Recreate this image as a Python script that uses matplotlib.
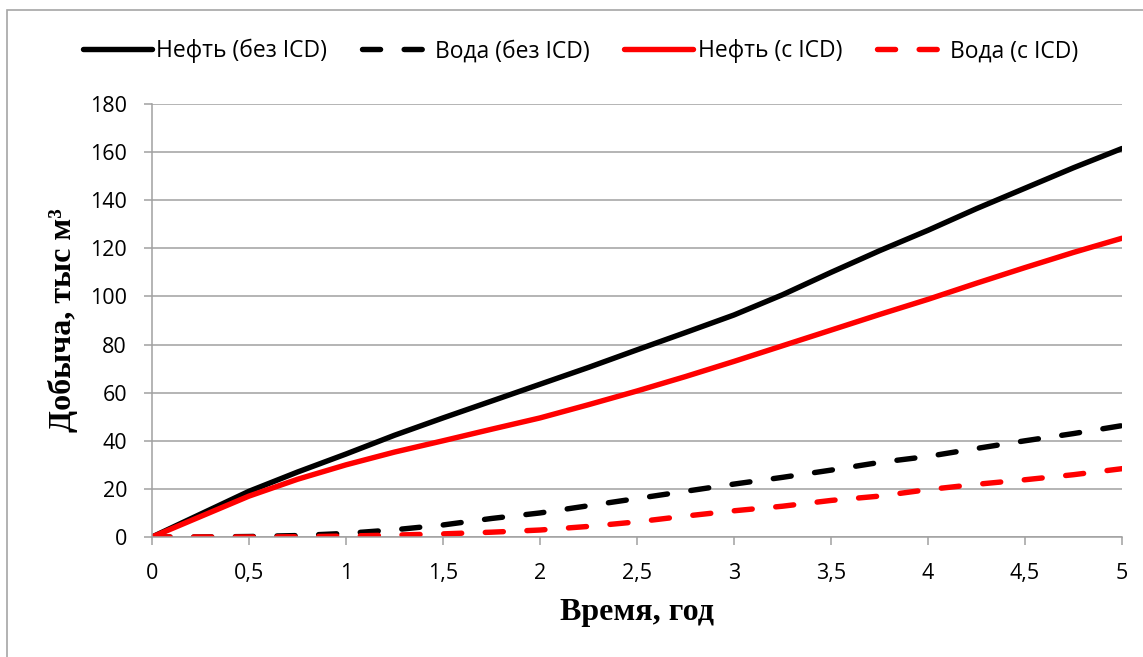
import matplotlib
matplotlib.use("Agg")
import matplotlib.pyplot as plt
from matplotlib.patches import Rectangle
from matplotlib.ticker import FixedLocator, FixedFormatter

# Time axis, years
years = [0, 0.25, 0.5, 0.75, 1, 1.25, 1.5, 1.75, 2, 2.25, 2.5,
         2.75, 3, 3.25, 3.5, 3.75, 4, 4.25, 4.5, 4.75, 5]

# Cumulative production, thousand m3
oil_no_icd = [0, 9.5, 19, 27, 34.5, 42.3, 49.5, 56.5, 63.5, 70.5, 77.8,
              85, 92.3, 100.7, 110, 119, 127.5, 136.5, 145, 153.5, 161.5]
water_no_icd = [0, 0, 0.2, 0.6, 1.5, 3, 5, 7.7, 10, 13, 16,
                19, 22, 24.8, 27.8, 31, 33.5, 36.8, 40, 43, 46.3]
oil_icd = [0, 8.5, 17, 24, 30, 35.3, 40, 44.8, 49.5, 55, 60.7,
           66.7, 73, 79.5, 86, 92.5, 98.8, 105.5, 112, 118.3, 124.2]
water_icd = [0, 0, 0, 0.1, 0.4, 0.8, 1.3, 2, 2.9, 4.4, 6.3,
             8.7, 10.9, 12.8, 15.2, 17, 19.7, 21.9, 23.8, 25.9, 28.4]

series_labels = ["Нефть (без ICD)", "Вода (без ICD)", "Нефть (с ICD)", "Вода (с ICD)"]

x_ticks = [0, 0.5, 1, 1.5, 2, 2.5, 3, 3.5, 4, 4.5, 5]
x_tick_labels = ["0", "0,5", "1", "1,5", "2", "2,5", "3", "3,5", "4", "4,5", "5"]
y_ticks = [0, 20, 40, 60, 80, 100, 120, 140, 160, 180]
y_tick_labels = [str(v) for v in y_ticks]

plt.rcParams["lines.scale_dashes"] = False
plt.rcParams["font.family"] = ["Open Sans", "DejaVu Sans"]

W, H = 1143, 657
fig = plt.figure(figsize=(W / 100, H / 100), dpi=100)
fig.patch.set_facecolor("white")

# Outer chart frame
fig.add_artist(Rectangle((7 / W, -0.05), 1.2, 1 - 10 / H + 0.05,
                         transform=fig.transFigure, fill=False,
                         edgecolor="#a6a6a6", linewidth=1.2))

ax = fig.add_axes([152 / W, 1 - 537 / H, (1122 - 152) / W, (537 - 104) / H])

grid_c = "#a0a0a0"
lw = 3.9
dash = (13, 17)
common = dict(lw=lw, solid_capstyle="round", solid_joinstyle="round",
              dash_capstyle="round", dash_joinstyle="round")

ax.plot(years, oil_no_icd, color="black", label=series_labels[0], **common)
ax.plot(years, water_no_icd, color="black", dashes=dash,
        label=series_labels[1], **common)
ax.plot(years, oil_icd, color="#ff0000", label=series_labels[2], **common)
ax.plot(years, water_icd, color="#ff0000", dashes=dash,
        label=series_labels[3], **common)

ax.set_xlim(0, 5)
ax.set_ylim(0, 180)
ax.xaxis.set_major_locator(FixedLocator(x_ticks))
ax.xaxis.set_major_formatter(FixedFormatter(x_tick_labels))
ax.yaxis.set_major_locator(FixedLocator(y_ticks))
ax.yaxis.set_major_formatter(FixedFormatter(y_tick_labels))

ax.grid(axis="y", color=grid_c, linewidth=1.1)
ax.set_axisbelow(True)
for s in ("top", "right"):
    ax.spines[s].set_visible(False)
for s in ("left", "bottom"):
    ax.spines[s].set_color(grid_c)
    ax.spines[s].set_linewidth(1.1)

ax.tick_params(axis="both", direction="out", length=6, width=1.1,
               color=grid_c, labelsize=15.5, labelcolor="black")
ax.tick_params(axis="y", pad=12)
ax.tick_params(axis="x", pad=13)

serif = ["Liberation Serif", "DejaVu Serif"]
ax.set_xlabel("Время, год", family=serif, fontweight="bold", fontsize=23,
              labelpad=10)
ax.set_ylabel("Добыча, тыс м³", family=serif, fontweight="bold", fontsize=23,
              labelpad=9)

fig.legend(loc="center", bbox_to_anchor=(0.508, 1 - 51 / H), ncol=4,
           frameon=False, fontsize=16.5, handlelength=3.0, handletextpad=0.2,
           columnspacing=1.5)

fig.savefig("out.png", dpi=100, facecolor="white")
